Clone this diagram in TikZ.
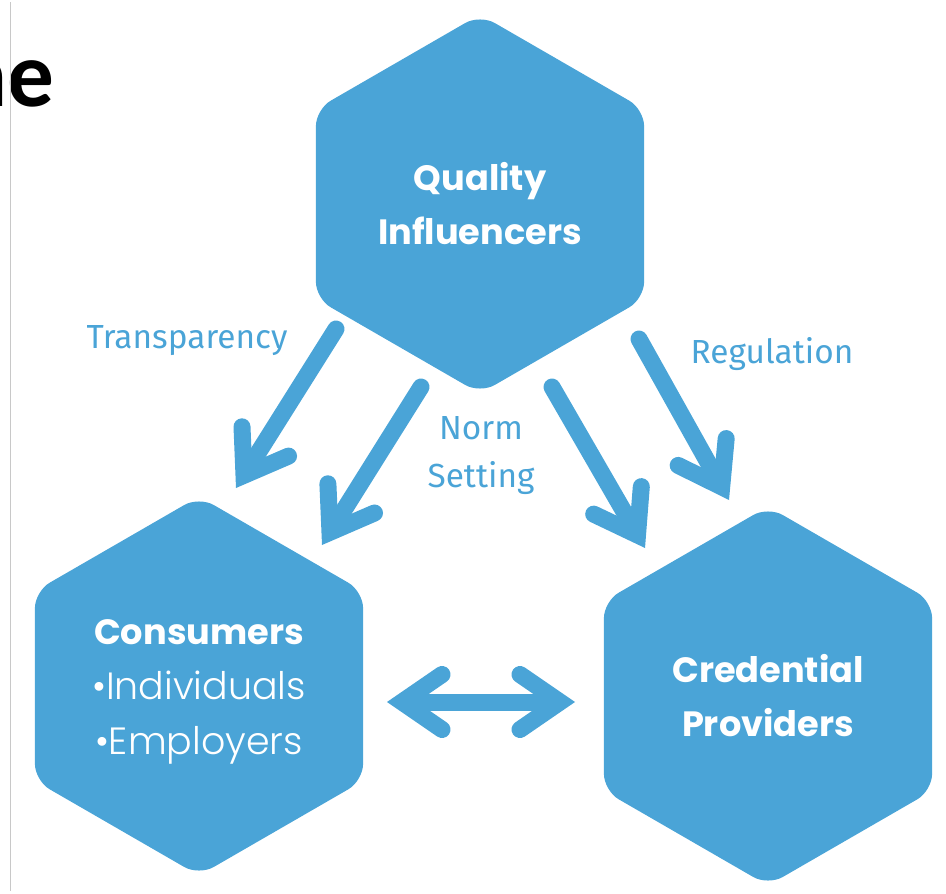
\documentclass[tikz,border=0pt]{standalone}
\usepackage{fontspec}
\newfontfamily\hexfont{Poppins}
\newfontfamily\hexlight{Poppins}[UprightFont=* Light]
\newfontfamily\labelfont{Fira Sans}
\newfontfamily\slidefont{Carlito}
\usetikzlibrary{shapes.geometric,arrows.meta}
\definecolor{hexblue}{RGB}{74,164,215}
\definecolor{edgegray}{RGB}{200,200,200}

\begin{document}
\begin{tikzpicture}[
  hexnode/.style={regular polygon, regular polygon sides=6, shape border rotate=30,
    fill=hexblue, draw=none, inner sep=0pt, minimum size=7.58cm, rounded corners=0.34cm,
    text=white, align=center},
  headfont/.style={font=\hexfont\bfseries\fontsize{20}{30.7}\selectfont},
  listfont/.style={text=white, align=center, font=\hexlight\fontsize{21.6}{31.2}\selectfont},
  linkarrow/.style={line width=0.34cm, draw=hexblue, line cap=round,
    -{Straight Barb[length=0.8cm, width=1.1cm, line cap=round, line join=miter]}},
  botharrow/.style={line width=0.34cm, draw=hexblue,
    {Straight Barb[length=0.8cm, width=1.1cm, line cap=round, line join=miter]}-{Straight Barb[length=0.8cm, width=1.1cm, line cap=round, line join=miter]}},
  linklabel/.style={text=hexblue, align=center, font=\labelfont\fontsize{19}{27.3}\selectfont}
]
\useasboundingbox (0,0) rectangle (18.92,17.86);
\clip (0,0) rectangle (18.92,17.86);

% Slide edge
\node[anchor=base east, font=\slidefont\bfseries\fontsize{53}{60}\selectfont] (title) at (1.22,15.72) {ne};
\draw[edgegray, line width=0.6pt] (0.21,0.04) -- (0.21,17.82);

% Hexagons
\node[hexnode, headfont] (quality) at (9.60,13.78) {Quality\\Influencers};
\node[hexnode] (consumers) at (3.98,4.14) {};
\node[listfont] (consumerstext) at ([yshift=-0.12cm]consumers.center)
  {{\hexfont\bfseries\fontsize{20}{30.7}\selectfont Consumers}\\
   •Individuals\\
   •Employers};
\node[hexnode, headfont] (providers) at (15.36,3.94) {Credential\\Providers};

% Arrow ends
\coordinate (t1) at (6.72,11.28);
\coordinate (h1) at (4.72,8.10);
\coordinate (t2) at (8.42,10.12);
\coordinate (h2) at (6.44,6.96);
\coordinate (t3) at (11.04,10.12);
\coordinate (h3) at (12.90,6.90);
\coordinate (t4) at (12.78,11.08);
\coordinate (h4) at (14.58,7.86);
\coordinate (left) at (7.74,3.82);
\coordinate (right) at (11.50,3.82);

% Arrows
\draw[linkarrow] (t1) -- (h1);
\draw[linkarrow] (t2) -- (h2);
\draw[linkarrow] (t3) -- (h3);
\draw[linkarrow] (t4) -- (h4);
\draw[botharrow] (left) -- (right);

% Labels
\node[linklabel] (transparency) at (3.74,11.04) {Transparency};
\node[linklabel] (norm) at (9.62,8.74) {Norm\\Setting};
\node[linklabel] (regulation) at (15.44,10.78) {Regulation};

\end{tikzpicture}
\end{document}
